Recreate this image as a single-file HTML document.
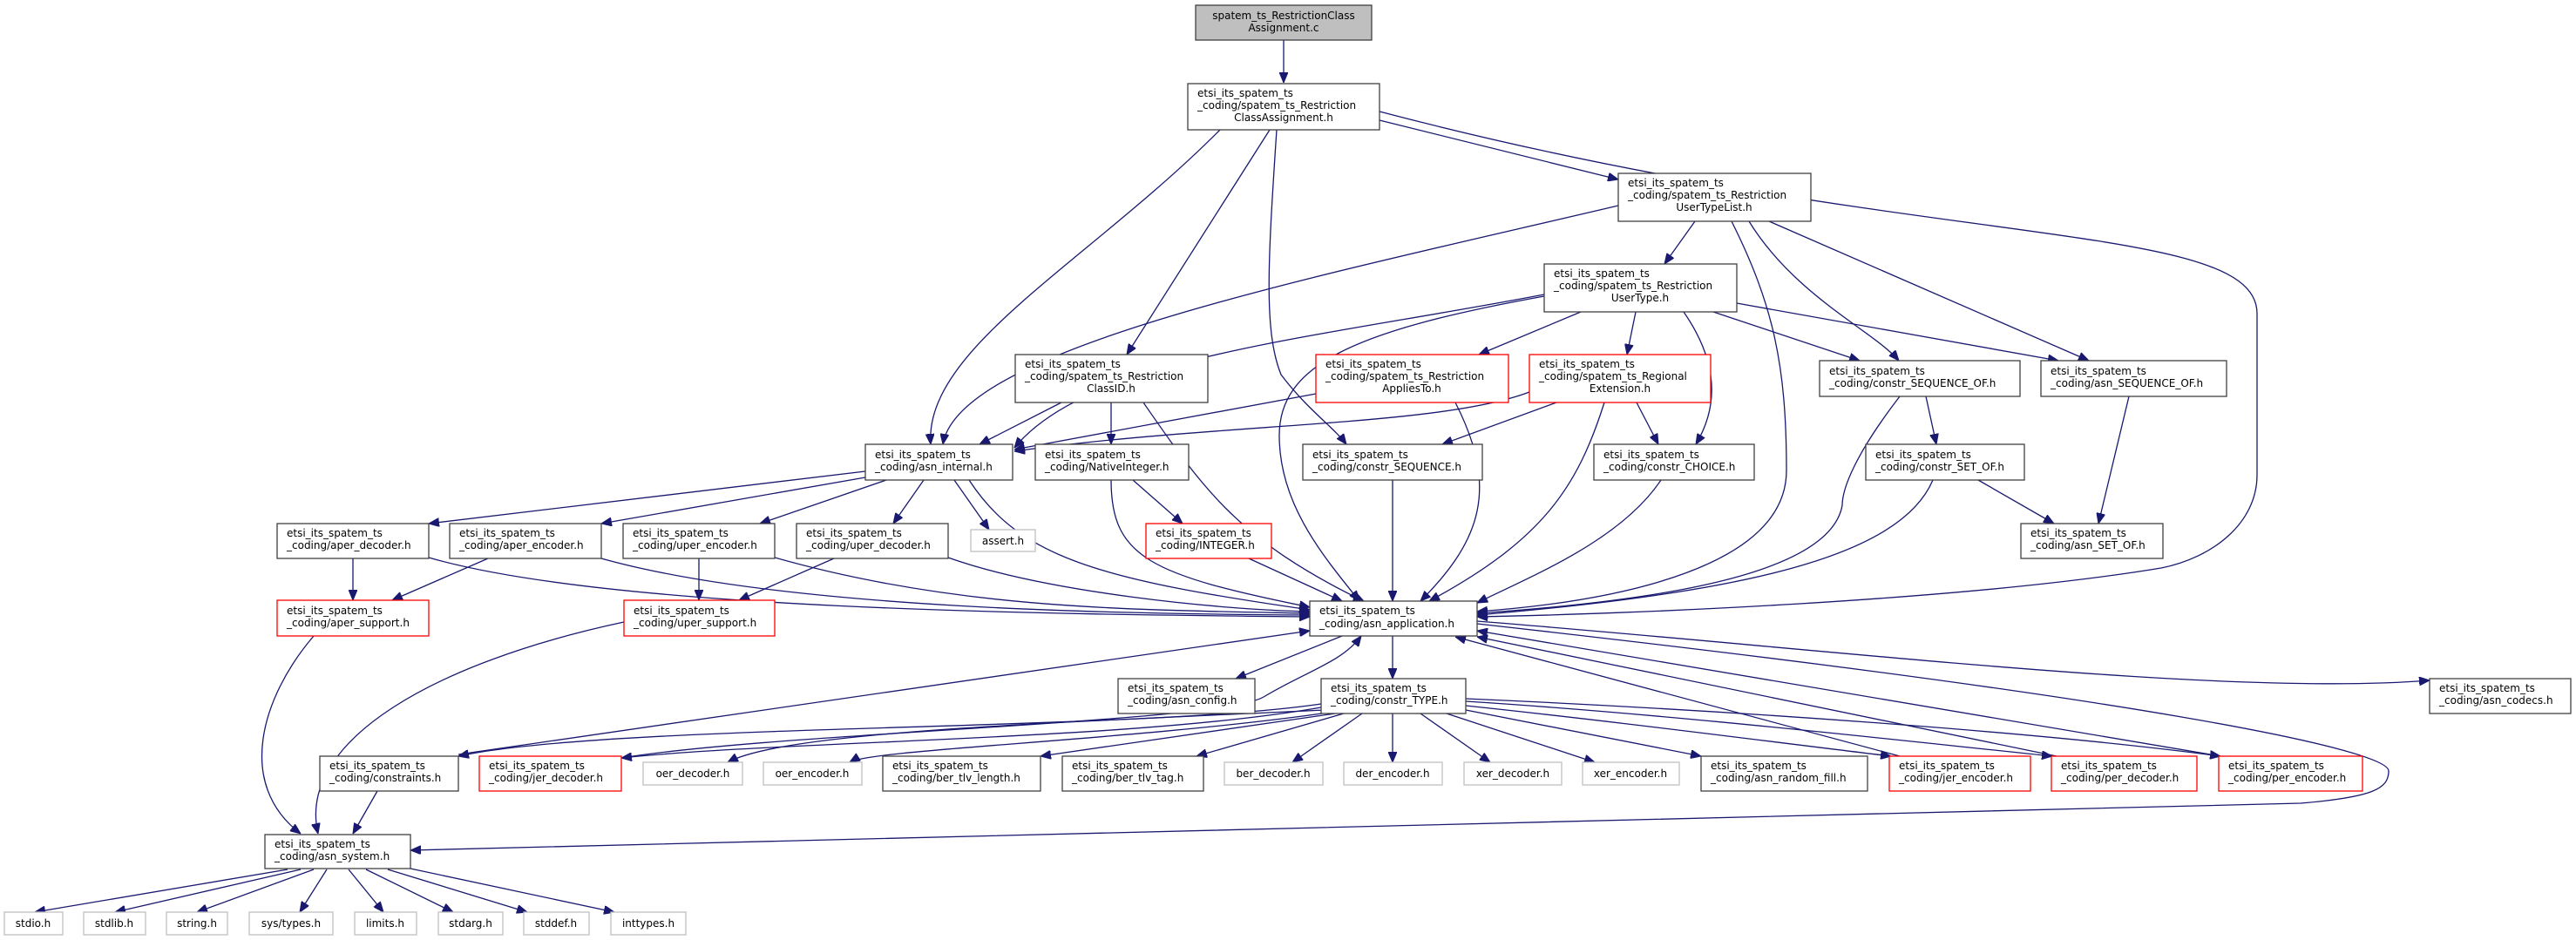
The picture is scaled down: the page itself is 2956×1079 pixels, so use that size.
<!DOCTYPE html>
<html><head><meta charset="utf-8"><style>
html,body{margin:0;padding:0;background:#fff}
svg{display:block}
text{font-family:"DejaVu Sans","Liberation Sans",sans-serif;font-size:12px;fill:#000}
.n{fill:#fff;stroke:#404040;stroke-width:1.3}
.r{fill:#fff;stroke:#ff0000;stroke-width:1.3}
.g{fill:#fff;stroke:#bfbfbf;stroke-width:1.3}
.e{fill:none;stroke:#191970;stroke-width:1.3}
</style></head><body>
<svg width="2956" height="1079" viewBox="0 0 2956 1079" xmlns="http://www.w3.org/2000/svg">
<defs><marker id="a" viewBox="0 0 12 10" refX="12" refY="5" markerWidth="12" markerHeight="10" markerUnits="userSpaceOnUse" orient="auto"><path d="M0,0 L12,5 L0,10 z" fill="#191970" stroke="#191970"/></marker></defs>
<g>
<path class="e" marker-end="url(#a)" d="M1473,46 L1473,95"/>
<path class="e" marker-end="url(#a)" d="M1583,138 L1857,206"/>
<path class="e" marker-end="url(#a)" d="M1583,128 C2200,290 2590,250 2590,360 L2590,545 C2590,600 2540,640 2480,652 C2250,690 1860,705 1695,708"/>
<path class="e" marker-end="url(#a)" d="M1400,149 C1250,300 1060,400 1068,510"/>
<path class="e" marker-end="url(#a)" d="M1457,149 L1293,407"/>
<path class="e" marker-end="url(#a)" d="M1465,149 C1455,300 1450,380 1470,430 C1500,470 1530,490 1545,510"/>
<path class="e" marker-end="url(#a)" d="M1857,236 C1500,320 1100,400 1082,510"/>
<path class="e" marker-end="url(#a)" d="M1945,254 L1910,303"/>
<path class="e" marker-end="url(#a)" d="M1987,254 C2035,350 2050,420 2050,540 C2050,650 1860,690 1695,702"/>
<path class="e" marker-end="url(#a)" d="M2007,254 C2060,340 2150,380 2179,414"/>
<path class="e" marker-end="url(#a)" d="M2030,254 L2397,414"/>
<path class="e" marker-end="url(#a)" d="M1772,338 C1500,390 1250,410 1164,514"/>
<path class="e" marker-end="url(#a)" d="M1772,340 C1550,380 1468,420 1468,500 C1468,580 1520,640 1560,690"/>
<path class="e" marker-end="url(#a)" d="M1814,358 L1697,407"/>
<path class="e" marker-end="url(#a)" d="M1877,358 L1867,407"/>
<path class="e" marker-end="url(#a)" d="M1932,358 C1975,420 1970,470 1946,510"/>
<path class="e" marker-end="url(#a)" d="M1966,358 L2134,414"/>
<path class="e" marker-end="url(#a)" d="M1993,348 L2362,414"/>
<path class="e" marker-end="url(#a)" d="M1510,452 L1164,516"/>
<path class="e" marker-end="url(#a)" d="M1670,462 C1720,560 1700,620 1630,690"/>
<path class="e" marker-end="url(#a)" d="M1755,450 C1650,490 1400,485 1164,518"/>
<path class="e" marker-end="url(#a)" d="M1786,462 L1655,510"/>
<path class="e" marker-end="url(#a)" d="M1878,462 L1903,510"/>
<path class="e" marker-end="url(#a)" d="M1841,462 C1810,560 1770,620 1640,690"/>
<path class="e" marker-end="url(#a)" d="M1218,462 L1124,510"/>
<path class="e" marker-end="url(#a)" d="M1275,462 L1275,510"/>
<path class="e" marker-end="url(#a)" d="M1312,462 C1380,560 1420,620 1565,690"/>
<path class="e" marker-end="url(#a)" d="M993,541 L492,601"/>
<path class="e" marker-end="url(#a)" d="M993,548 L690,601"/>
<path class="e" marker-end="url(#a)" d="M1017,551 L872,601"/>
<path class="e" marker-end="url(#a)" d="M1060,551 L1025,601"/>
<path class="e" marker-end="url(#a)" d="M1095,551 L1135,608"/>
<path class="e" marker-end="url(#a)" d="M1112,551 C1170,640 1260,665 1503,700"/>
<path class="e" marker-end="url(#a)" d="M1300,551 L1357,601"/>
<path class="e" marker-end="url(#a)" d="M1275,551 C1275,640 1320,660 1503,697"/>
<path class="e" marker-end="url(#a)" d="M1433,641 L1540,690"/>
<path class="e" marker-end="url(#a)" d="M1598,551 L1598,690"/>
<path class="e" marker-end="url(#a)" d="M1906,551 C1860,620 1760,660 1695,692"/>
<path class="e" marker-end="url(#a)" d="M2180,455 C2130,520 2114,560 2114,580 C2100,660 1900,690 1695,704"/>
<path class="e" marker-end="url(#a)" d="M2210,455 L2222,510"/>
<path class="e" marker-end="url(#a)" d="M2443,455 L2408,601"/>
<path class="e" marker-end="url(#a)" d="M2270,551 L2357,601"/>
<path class="e" marker-end="url(#a)" d="M2218,551 C2180,640 2000,680 1695,706"/>
<path class="e" marker-end="url(#a)" d="M405,641 L405,689"/>
<path class="e" marker-end="url(#a)" d="M492,640 C700,700 1200,705 1503,708"/>
<path class="e" marker-end="url(#a)" d="M560,641 L450,689"/>
<path class="e" marker-end="url(#a)" d="M690,641 C900,700 1300,705 1503,706"/>
<path class="e" marker-end="url(#a)" d="M802,641 L802,689"/>
<path class="e" marker-end="url(#a)" d="M889,640 C1100,700 1300,700 1503,704"/>
<path class="e" marker-end="url(#a)" d="M957,641 L848,689"/>
<path class="e" marker-end="url(#a)" d="M1088,640 C1200,680 1400,700 1503,702"/>
<path class="e" marker-end="url(#a)" d="M360,730 C300,800 270,900 345,957"/>
<path class="e" marker-end="url(#a)" d="M716,714 C500,760 340,850 365,957"/>
<path class="e" marker-end="url(#a)" d="M1540,730 L1418,779"/>
<path class="e" marker-end="url(#a)" d="M1598,730 L1598,779"/>
<path class="e" marker-end="url(#a)" d="M1695,713 C2100,745 2550,800 2788,781"/>
<path class="e" marker-end="url(#a)" d="M1695,716 C2450,800 2741,860 2741,885 C2741,905 2724,915 2640,922 L471,976"/>
<path class="e" marker-end="url(#a)" d="M526,866 L1503,724"/>
<path class="e" marker-end="url(#a)" d="M433,908 L405,957"/>
<path class="e" marker-end="url(#a)" d="M713,870 C900,840 1400,830 1450,800 C1500,770 1540,760 1562,730"/>
<path class="e" marker-end="url(#a)" d="M1516,808 C1300,840 700,830 526,868"/>
<path class="e" marker-end="url(#a)" d="M1516,812 C1300,850 900,850 713,870"/>
<path class="e" marker-end="url(#a)" d="M1520,815 C1200,830 900,840 835,875"/>
<path class="e" marker-end="url(#a)" d="M1524,818 C1300,850 1000,860 975,875"/>
<path class="e" marker-end="url(#a)" d="M1532,819 L1194,868"/>
<path class="e" marker-end="url(#a)" d="M1542,819 L1373,868"/>
<path class="e" marker-end="url(#a)" d="M1563,819 L1483,875"/>
<path class="e" marker-end="url(#a)" d="M1598,819 L1598,875"/>
<path class="e" marker-end="url(#a)" d="M1630,819 L1710,875"/>
<path class="e" marker-end="url(#a)" d="M1660,819 L1830,875"/>
<path class="e" marker-end="url(#a)" d="M1682,815 L1952,868"/>
<path class="e" marker-end="url(#a)" d="M1682,810 C1870,830 2020,850 2170,868"/>
<path class="e" marker-end="url(#a)" d="M1682,805 C1920,820 2180,850 2355,868"/>
<path class="e" marker-end="url(#a)" d="M1682,802 C1980,815 2340,840 2548,868"/>
<path class="e" marker-end="url(#a)" d="M2180,868 L1670,731"/>
<path class="e" marker-end="url(#a)" d="M2360,868 L1695,731"/>
<path class="e" marker-end="url(#a)" d="M2548,868 L1695,724"/>
<path class="e" marker-end="url(#a)" d="M330,998 L40,1047"/>
<path class="e" marker-end="url(#a)" d="M345,998 L132,1047"/>
<path class="e" marker-end="url(#a)" d="M360,998 L226,1047"/>
<path class="e" marker-end="url(#a)" d="M375,998 L344,1047"/>
<path class="e" marker-end="url(#a)" d="M400,998 L440,1047"/>
<path class="e" marker-end="url(#a)" d="M420,998 L520,1047"/>
<path class="e" marker-end="url(#a)" d="M445,998 L605,1047"/>
<path class="e" marker-end="url(#a)" d="M471,997 L705,1047"/>
</g>

<rect x="1372" y="6" width="202" height="40" fill="#bfbfbf" stroke="#404040" stroke-width="1.3"/>
<text x="1473" y="22" text-anchor="middle">spatem_ts_RestrictionClass</text>
<text x="1473" y="36" text-anchor="middle">Assignment.c</text>

<rect class="n" x="1363" y="96" width="220" height="53"/>
<text x="1374" y="111">etsi_its_spatem_ts</text><text x="1374" y="125">_coding/spatem_ts_Restriction</text><text x="1473" y="139" text-anchor="middle">ClassAssignment.h</text>

<rect class="n" x="1857" y="199" width="221" height="55"/>
<text x="1868" y="214">etsi_its_spatem_ts</text><text x="1868" y="228">_coding/spatem_ts_Restriction</text><text x="1967" y="242" text-anchor="middle">UserTypeList.h</text>

<rect class="n" x="1772" y="303" width="221" height="55"/>
<text x="1783" y="318">etsi_its_spatem_ts</text><text x="1783" y="332">_coding/spatem_ts_Restriction</text><text x="1882" y="346" text-anchor="middle">UserType.h</text>

<rect class="r" x="1510" y="407" width="221" height="55"/>
<text x="1521" y="422">etsi_its_spatem_ts</text><text x="1521" y="436">_coding/spatem_ts_Restriction</text><text x="1620" y="450" text-anchor="middle">AppliesTo.h</text>

<rect class="r" x="1755" y="407" width="208" height="55"/>
<text x="1766" y="422">etsi_its_spatem_ts</text><text x="1766" y="436">_coding/spatem_ts_Regional</text><text x="1859" y="450" text-anchor="middle">Extension.h</text>

<rect class="n" x="1165" y="407" width="221" height="55"/>
<text x="1176" y="422">etsi_its_spatem_ts</text><text x="1176" y="436">_coding/spatem_ts_Restriction</text><text x="1275" y="450" text-anchor="middle">ClassID.h</text>

<rect class="n" x="2088" y="414" width="230" height="41"/>
<text x="2099" y="430">etsi_its_spatem_ts</text><text x="2099" y="444">_coding/constr_SEQUENCE_OF.h</text>

<rect class="n" x="2342" y="414" width="213" height="41"/>
<text x="2353" y="430">etsi_its_spatem_ts</text><text x="2353" y="444">_coding/asn_SEQUENCE_OF.h</text>

<rect class="n" x="993" y="510" width="169" height="41"/>
<text x="1004" y="526">etsi_its_spatem_ts</text><text x="1004" y="540">_coding/asn_internal.h</text>

<rect class="n" x="1188" y="510" width="176" height="41"/>
<text x="1199" y="526">etsi_its_spatem_ts</text><text x="1199" y="540">_coding/NativeInteger.h</text>

<rect class="n" x="1495" y="510" width="206" height="41"/>
<text x="1506" y="526">etsi_its_spatem_ts</text><text x="1506" y="540">_coding/constr_SEQUENCE.h</text>

<rect class="n" x="1829" y="510" width="184" height="41"/>
<text x="1840" y="526">etsi_its_spatem_ts</text><text x="1840" y="540">_coding/constr_CHOICE.h</text>

<rect class="n" x="2141" y="510" width="182" height="41"/>
<text x="2152" y="526">etsi_its_spatem_ts</text><text x="2152" y="540">_coding/constr_SET_OF.h</text>

<rect class="n" x="318" y="601" width="174" height="40"/>
<text x="329" y="616">etsi_its_spatem_ts</text><text x="329" y="630">_coding/aper_decoder.h</text>
<rect class="n" x="516" y="601" width="174" height="40"/>
<text x="527" y="616">etsi_its_spatem_ts</text><text x="527" y="630">_coding/aper_encoder.h</text>
<rect class="n" x="715" y="601" width="174" height="40"/>
<text x="726" y="616">etsi_its_spatem_ts</text><text x="726" y="630">_coding/uper_encoder.h</text>
<rect class="n" x="914" y="601" width="174" height="40"/>
<text x="925" y="616">etsi_its_spatem_ts</text><text x="925" y="630">_coding/uper_decoder.h</text>
<rect class="g" x="1114" y="608" width="74" height="25"/>
<text x="1151" y="625" text-anchor="middle">assert.h</text>
<rect class="r" x="1315" y="601" width="144" height="40"/>
<text x="1326" y="616">etsi_its_spatem_ts</text><text x="1326" y="630">_coding/INTEGER.h</text>
<rect class="n" x="2319" y="601" width="163" height="40"/>
<text x="2330" y="616">etsi_its_spatem_ts</text><text x="2330" y="630">_coding/asn_SET_OF.h</text>

<rect class="r" x="318" y="689" width="174" height="41"/>
<text x="329" y="705">etsi_its_spatem_ts</text><text x="329" y="719">_coding/aper_support.h</text>
<rect class="r" x="716" y="689" width="173" height="41"/>
<text x="727" y="705">etsi_its_spatem_ts</text><text x="727" y="719">_coding/uper_support.h</text>
<rect class="n" x="1503" y="690" width="192" height="40" stroke-width="1.6"/>
<text x="1514" y="705">etsi_its_spatem_ts</text><text x="1514" y="720">_coding/asn_application.h</text>

<rect class="n" x="1283" y="779" width="157" height="40"/>
<text x="1294" y="794">etsi_its_spatem_ts</text><text x="1294" y="808">_coding/asn_config.h</text>
<rect class="n" x="1516" y="779" width="166" height="40"/>
<text x="1527" y="794">etsi_its_spatem_ts</text><text x="1527" y="808">_coding/constr_TYPE.h</text>
<rect class="n" x="2788" y="779" width="162" height="40"/>
<text x="2799" y="794">etsi_its_spatem_ts</text><text x="2799" y="808">_coding/asn_codecs.h</text>

<rect class="n" x="367" y="868" width="159" height="40"/>
<text x="378" y="883">etsi_its_spatem_ts</text><text x="378" y="897">_coding/constraints.h</text>
<rect class="r" x="550" y="868" width="163" height="40"/>
<text x="561" y="883">etsi_its_spatem_ts</text><text x="561" y="897">_coding/jer_decoder.h</text>
<rect class="g" x="738" y="875" width="114" height="26"/><text x="795" y="892" text-anchor="middle">oer_decoder.h</text>
<rect class="g" x="876" y="875" width="113" height="26"/><text x="932" y="892" text-anchor="middle">oer_encoder.h</text>
<rect class="n" x="1013" y="868" width="181" height="40"/>
<text x="1024" y="883">etsi_its_spatem_ts</text><text x="1024" y="897">_coding/ber_tlv_length.h</text>
<rect class="n" x="1219" y="868" width="162" height="40"/>
<text x="1230" y="883">etsi_its_spatem_ts</text><text x="1230" y="897">_coding/ber_tlv_tag.h</text>
<rect class="g" x="1405" y="875" width="113" height="26"/><text x="1461" y="892" text-anchor="middle">ber_decoder.h</text>
<rect class="g" x="1542" y="875" width="113" height="26"/><text x="1598" y="892" text-anchor="middle">der_encoder.h</text>
<rect class="g" x="1680" y="875" width="112" height="26"/><text x="1736" y="892" text-anchor="middle">xer_decoder.h</text>
<rect class="g" x="1816" y="875" width="111" height="26"/><text x="1871" y="892" text-anchor="middle">xer_encoder.h</text>
<rect class="n" x="1952" y="868" width="191" height="40"/>
<text x="1963" y="883">etsi_its_spatem_ts</text><text x="1963" y="897">_coding/asn_random_fill.h</text>
<rect class="r" x="2168" y="868" width="162" height="40"/>
<text x="2179" y="883">etsi_its_spatem_ts</text><text x="2179" y="897">_coding/jer_encoder.h</text>
<rect class="r" x="2354" y="868" width="167" height="40"/>
<text x="2365" y="883">etsi_its_spatem_ts</text><text x="2365" y="897">_coding/per_decoder.h</text>
<rect class="r" x="2546" y="868" width="165" height="40"/>
<text x="2557" y="883">etsi_its_spatem_ts</text><text x="2557" y="897">_coding/per_encoder.h</text>

<rect class="n" x="304" y="958" width="167" height="39" stroke-width="1.6"/>
<text x="315" y="973">etsi_its_spatem_ts</text><text x="315" y="987">_coding/asn_system.h</text>

<rect class="g" x="5" y="1047" width="67" height="26"/><text x="38" y="1064" text-anchor="middle">stdio.h</text>
<rect class="g" x="96" y="1047" width="71" height="26"/><text x="131" y="1064" text-anchor="middle">stdlib.h</text>
<rect class="g" x="191" y="1047" width="70" height="26"/><text x="226" y="1064" text-anchor="middle">string.h</text>
<rect class="g" x="286" y="1047" width="96" height="26"/><text x="334" y="1064" text-anchor="middle">sys/types.h</text>
<rect class="g" x="407" y="1047" width="71" height="26"/><text x="442" y="1064" text-anchor="middle">limits.h</text>
<rect class="g" x="503" y="1047" width="74" height="26"/><text x="540" y="1064" text-anchor="middle">stdarg.h</text>
<rect class="g" x="601" y="1047" width="75" height="26"/><text x="638" y="1064" text-anchor="middle">stddef.h</text>
<rect class="g" x="701" y="1047" width="86" height="26"/><text x="744" y="1064" text-anchor="middle">inttypes.h</text>
</svg>
</body></html>
